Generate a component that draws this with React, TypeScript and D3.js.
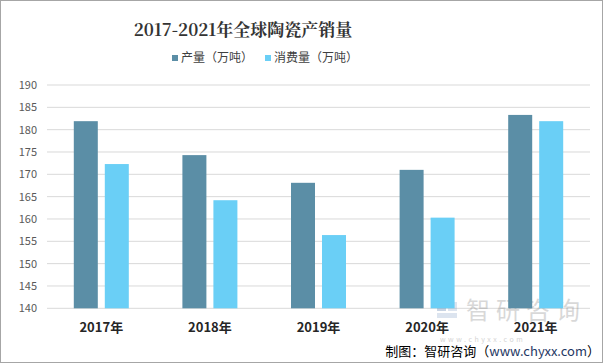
import React from "react";
import * as d3 from "d3";

// chart data
const years = ["2017年", "2018年", "2019年", "2020年", "2021年"];
const production = [181.9, 174.3, 168.1, 171.0, 183.3];
const consumption = [172.3, 164.2, 156.4, 160.3, 181.9];
const yTicks = [140, 145, 150, 155, 160, 165, 170, 175, 180, 185, 190];
const seriesNames = ["产量（万吨）", "消费量（万吨）"];

const colors = ["#5b8ea6", "#6acff6"];

export default function App() {
    const width = 605;
    const height = 364;
    const left = 47;
    const right = 590;
    const top = 85;
    const bottom = 308.3;

    const x = d3.scaleBand().domain(years).range([left, right]);
    const y = d3.scaleLinear().domain([140, 190]).range([bottom, top]);

    const barW = 24;
    const gap = 7;

    const font = "'Microsoft YaHei', 'Noto Sans CJK SC', sans-serif";

    return (
        <svg
            width={width}
            height={height}
            style={{ position: "absolute", left: 0, top: 0 }}
            fontFamily={font}
        >
            <rect x={0.5} y={0.5} width={width - 3} height={height - 2} fill="#fff" stroke="#a6a6a6" />

            <text
                x={243}
                y={36}
                textAnchor="middle"
                fontSize={17}
                fontWeight="bold"
                fill="#333"
                fontFamily="'Noto Serif CJK SC', 'Noto Sans CJK SC', serif"
            >
                2017-2021年全球陶瓷产销量
            </text>

            {/* legend */}
            {seriesNames.map((name, i) => {
                const lx = i === 0 ? 172 : 265;
                return (
                    <g key={name}>
                        <rect x={lx} y={55} width={6} height={6} fill={colors[i]} />
                        <text x={lx + 9} y={62} fontSize={12} fill="#404040">
                            {name}
                        </text>
                    </g>
                );
            })}

            {/* grid */}
            {yTicks.map((t) => (
                <g key={t}>
                    <line x1={left} x2={right} y1={y(t)} y2={y(t)} stroke="#d9d9d9" strokeWidth={1} />
                    <text x={37} y={y(t) + 4} textAnchor="end" fontSize={11} fill="#595959">
                        {t}
                    </text>
                </g>
            ))}

            {/* watermark */}
            <g opacity={0.3}>
                <rect x={437} y={302} width={9} height={9} fill="#4a6fa5" />
                <rect x={448} y={302} width={9} height={9} fill="#8fa9cc" />
                <rect x={437} y={313} width={20} height={5} fill="#8fa9cc" />
                <text x={466} y={319} fontSize={24} fill="#7f7f7f" letterSpacing={6}>
                    智研咨询
                </text>
            </g>

            {/* bars */}
            {years.map((yr, i) => {
                const cx = (x(yr) ?? 0) + x.bandwidth() / 2;
                return (
                    <g key={yr}>
                        <rect
                            x={cx - gap / 2 - barW}
                            y={y(production[i])}
                            width={barW}
                            height={bottom - y(production[i])}
                            fill={colors[0]}
                        />
                        <rect
                            x={cx + gap / 2}
                            y={y(consumption[i])}
                            width={barW}
                            height={bottom - y(consumption[i])}
                            fill={colors[1]}
                        />
                        <text
                            x={cx}
                            y={332}
                            textAnchor="middle"
                            fontSize={13}
                            fontWeight="bold"
                            fill="#262626"
                        >
                            {yr}
                        </text>
                    </g>
                );
            })}

            <text x={440} y={342} fontSize={7} fill="#7f7f7f" opacity={0.35} letterSpacing={2.5}>
                www.chyxx.com
            </text>

            <text x={600} y={356} textAnchor="end" fontSize={13} fill="#000">
                制图：智研咨询（
                <tspan fill="#1f3864">www.chyxx.com</tspan>）
            </text>
        </svg>
    );
}
